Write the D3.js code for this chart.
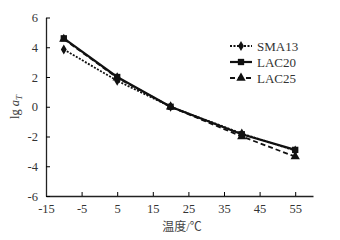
<!DOCTYPE html>
<html>
<head>
<meta charset="utf-8">
<script src="https://cdn.jsdelivr.net/npm/d3@7"></script>
<style>
body { margin: 0; background: #fff; }
text { font-family: "Liberation Serif", "Noto Sans CJK SC", serif; }
</style>
</head>
<body>
<svg id="chart" width="340" height="240"></svg>
<script>
const temps = [-10, 5, 20, 40, 55];
const sma13 = [3.85, 1.75, 0, -1.8, -2.95];
const lac20 = [4.6, 2.0, 0, -1.85, -2.9];
const lac25 = [4.55, 1.95, 0, -2.0, -3.35];
const xTicks = [-15, -5, 5, 15, 25, 35, 45, 55];
const yTicks = [-6, -4, -2, 0, 2, 4, 6];

const svg = d3.select("#chart");
const x = d3.scaleLinear().domain([-15, 60]).range([46, 313]);
const y = d3.scaleLinear().domain([-6, 6]).range([196, 17.5]);
const fmt = d => String(d); // plain hyphen like the original

// axes, ticks pointing inward
svg.append("g")
    .attr("transform", `translate(0,${y(-6)})`)
    .call(d3.axisBottom(x).tickValues(xTicks).tickFormat(fmt).tickSizeInner(-4).tickSizeOuter(0).tickPadding(8))
    .call(g => g.selectAll("text").attr("font-size", 12.5).attr("fill", "#333"))
    .call(g => g.select(".domain").attr("stroke", "#222").attr("stroke-width", 1.3));
svg.append("g")
    .attr("transform", `translate(${x(-15)},0)`)
    .call(d3.axisLeft(y).tickValues(yTicks).tickFormat(fmt).tickSizeInner(-4).tickSizeOuter(0).tickPadding(8))
    .call(g => g.selectAll("text").attr("font-size", 12.5).attr("fill", "#333"))
    .call(g => g.select(".domain").attr("stroke", "#222").attr("stroke-width", 1.3));

const series = [
    {name: "LAC25", vals: lac25, dash: "5,3", width: 1.8, sym: d3.symbolTriangle, size: 38},
    {name: "LAC20", vals: lac20, dash: null, width: 2.2, sym: d3.symbolSquare, size: 40},
    {name: "SMA13", vals: sma13, dash: "2,1.5", width: 1.8, sym: d3.symbolDiamond, size: 30}
];
const line = d3.line().x((d, i) => x(temps[i])).y(d => y(d));

series.forEach(s => {
    svg.append("path").datum(s.vals)
        .attr("d", line)
        .attr("fill", "none")
        .attr("stroke", "#111")
        .attr("stroke-width", s.width)
        .attr("stroke-dasharray", s.dash);
    svg.append("g").selectAll("path").data(s.vals).join("path")
        .attr("transform", (d, i) => `translate(${x(temps[i])},${y(d)})`)
        .attr("d", d3.symbol().type(s.sym).size(s.size))
        .attr("fill", "#111");
});

// legend
const legendOrder = ["SMA13", "LAC20", "LAC25"];
legendOrder.forEach((name, i) => {
    const s = series.find(d => d.name === name);
    const ly = 46 + i * 16;
    const lg = svg.append("g").attr("transform", `translate(230,${ly})`);
    lg.append("line").attr("x1", 0).attr("x2", 22)
        .attr("stroke", "#111").attr("stroke-width", s.width).attr("stroke-dasharray", s.dash);
    lg.append("path").attr("transform", "translate(11,0)")
        .attr("d", d3.symbol().type(s.sym).size(s.size)).attr("fill", "#111");
    lg.append("text").attr("x", 27).attr("y", 4.5).attr("font-size", 13).attr("fill", "#333").text(name);
});

// axis titles
svg.append("text")
    .attr("transform", "translate(19,107) rotate(-90)")
    .attr("text-anchor", "middle")
    .attr("font-size", 12.5)
    .attr("fill", "#333")
    .call(t => {
        t.append("tspan").text("lg ");
        t.append("tspan").attr("font-style", "italic").text("a");
        t.append("tspan").attr("font-style", "italic").attr("font-size", 9).attr("dy", 3).text("T");
    });
svg.append("text")
    .attr("x", 182).attr("y", 231)
    .attr("text-anchor", "middle")
    .attr("font-size", 12)
    .attr("fill", "#444")
    .attr("font-family", "'Noto Sans CJK SC', sans-serif")
    .text("温度/℃");
</script>
</body>
</html>
